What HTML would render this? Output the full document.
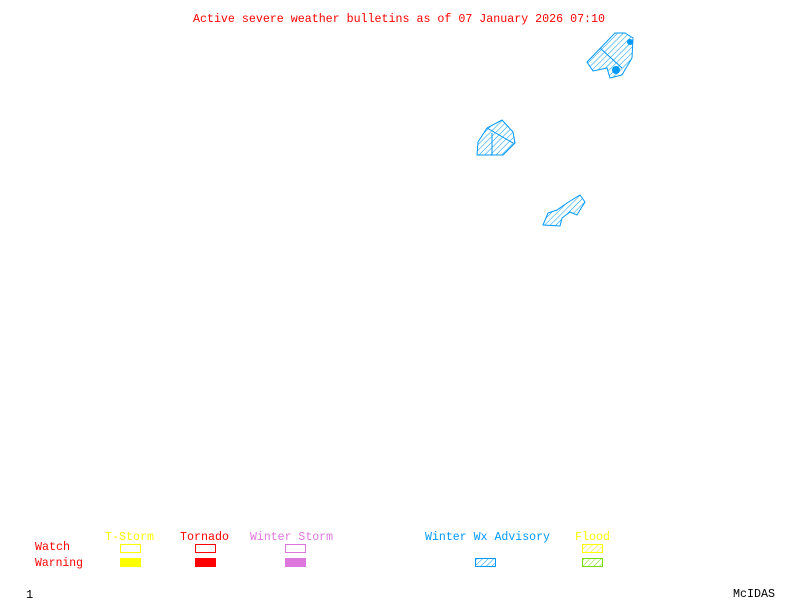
<!DOCTYPE html>
<html><head><style>
html,body{margin:0;padding:0;background:#fff;}
svg{display:block;}
text{font-family:"Liberation Mono",monospace;font-size:12px;}
</style></head><body>
<svg width="800" height="600" xmlns="http://www.w3.org/2000/svg">
<defs>
<pattern id="hb" width="4" height="4" patternUnits="userSpaceOnUse" patternTransform="rotate(45)">
<line x1="0" y1="0" x2="0" y2="4" stroke="#0099ff" stroke-width="1"/></pattern>
<pattern id="hy" width="4" height="4" patternUnits="userSpaceOnUse" patternTransform="rotate(45)">
<line x1="0" y1="0" x2="0" y2="4" stroke="#ffff00" stroke-width="1"/></pattern>
<pattern id="hg" width="4" height="4" patternUnits="userSpaceOnUse" patternTransform="rotate(45)">
<line x1="0" y1="0" x2="0" y2="4" stroke="#77dd00" stroke-width="1"/></pattern>
</defs>
<text x="193" y="22" fill="#ff0000" textLength="412" lengthAdjust="spacingAndGlyphs">Active severe weather bulletins as of 07 January 2026 07:10</text>

<g stroke="#0099ff" stroke-width="1" fill="url(#hb)">
<polygon points="587,62 615,33 625,33 633,38 632,58 622,75 610,78 607,68 593,71"/>
<line x1="600" y1="48" x2="622" y2="68"/>
<polygon points="477,155 478,142 487,128 502,120 513,132 515,143 503,155"/>
<line x1="492" y1="133" x2="492" y2="155"/>
<line x1="487" y1="128" x2="513" y2="143"/>
<polygon points="543,225 548,213 557,210 567,203 575,198 580,195 585,202 580,210 577,215 570,212 562,218 560,226"/>
</g>
<circle cx="616" cy="70" r="4" fill="#0099ff"/>
<circle cx="630" cy="42" r="3" fill="#0099ff"/>

<text x="105" y="540" fill="#ffff00" textLength="49" lengthAdjust="spacingAndGlyphs">T-Storm</text>
<text x="180" y="540" fill="#ff0000" textLength="49" lengthAdjust="spacingAndGlyphs">Tornado</text>
<text x="250" y="540" fill="#dd77dd" textLength="83" lengthAdjust="spacingAndGlyphs">Winter Storm</text>
<text x="425" y="540" fill="#0099ff" textLength="125" lengthAdjust="spacingAndGlyphs">Winter Wx Advisory</text>
<text x="575" y="540" fill="#ffff00" textLength="35" lengthAdjust="spacingAndGlyphs">Flood</text>
<text x="35" y="550" fill="#ff0000" textLength="35" lengthAdjust="spacingAndGlyphs">Watch</text>
<text x="35" y="566" fill="#ff0000" textLength="48" lengthAdjust="spacingAndGlyphs">Warning</text>

<rect x="120.5" y="544.5" width="20" height="8" fill="none" stroke="#ffff00"/>
<rect x="195.5" y="544.5" width="20" height="8" fill="none" stroke="#ff0000"/>
<rect x="285.5" y="544.5" width="20" height="8" fill="none" stroke="#dd77dd"/>
<rect x="582.5" y="544.5" width="20" height="8" fill="url(#hy)" stroke="#ffff00"/>
<rect x="120" y="558" width="21" height="9" fill="#ffff00"/>
<rect x="195" y="558" width="21" height="9" fill="#ff0000"/>
<rect x="285" y="558" width="21" height="9" fill="#dd77dd"/>
<rect x="475.5" y="558.5" width="20" height="8" fill="url(#hb)" stroke="#0099ff"/>
<rect x="582.5" y="558.5" width="20" height="8" fill="url(#hg)" stroke="#77dd00"/>

<text x="26" y="598" fill="#000">1</text>
<text x="733" y="597" fill="#000" textLength="42" lengthAdjust="spacingAndGlyphs">McIDAS</text>
</svg>
</body></html>
